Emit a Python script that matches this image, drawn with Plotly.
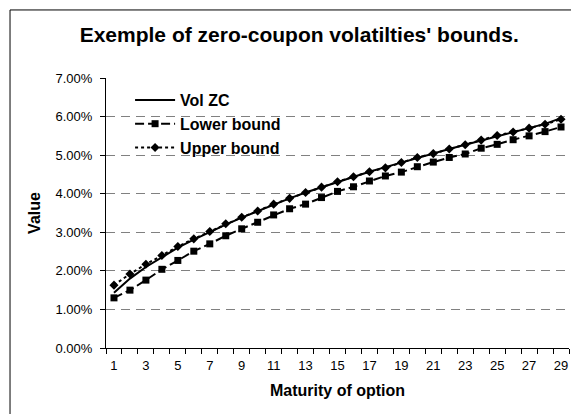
import plotly.graph_objects as go

# Daten
maturity = list(range(1, 30))
vol_zc = [1.43, 1.80, 2.10, 2.36, 2.60, 2.81, 3.01, 3.20, 3.38, 3.55,
          3.72, 3.88, 4.03, 4.17, 4.31, 4.44, 4.57, 4.69, 4.81, 4.93,
          5.04, 5.16, 5.27, 5.38, 5.49, 5.59, 5.70, 5.81, 5.96]
lower_bound = [1.30, 1.50, 1.76, 2.04, 2.27, 2.51, 2.70, 2.91, 3.09, 3.26,
               3.45, 3.61, 3.73, 3.90, 4.06, 4.18, 4.33, 4.46, 4.56, 4.70,
               4.82, 4.94, 5.03, 5.18, 5.28, 5.40, 5.50, 5.61, 5.73]
upper_bound = [1.63, 1.92, 2.17, 2.40, 2.63, 2.83, 3.02, 3.22, 3.39, 3.55,
               3.73, 3.88, 4.03, 4.17, 4.31, 4.44, 4.57, 4.67, 4.81, 4.94,
               5.04, 5.16, 5.27, 5.39, 5.51, 5.60, 5.70, 5.80, 5.93]
x_ticks = list(range(1, 30, 2))

FONT = "Liberation Sans, Arial, sans-serif"

fig = go.Figure()

fig.add_trace(
    go.Scatter(
        x=maturity,
        y=[v / 100 for v in vol_zc],
        mode="lines",
        name="Vol ZC",
        legendgroup="a",
        line=dict(color="black", width=2),
    )
)

fig.add_trace(
    go.Scatter(
        x=maturity,
        y=[v / 100 for v in lower_bound],
        mode="lines+markers",
        name="Lower bound",
        legendgroup="b",
        line=dict(color="black", width=2, dash="9px,4px"),
        marker=dict(symbol="square", size=7, color="black"),
    )
)

fig.add_trace(
    go.Scatter(
        x=maturity,
        y=[v / 100 for v in upper_bound],
        mode="lines+markers",
        name="Upper bound",
        legendgroup="c",
        line=dict(color="black", width=2, dash="3px,3px"),
        marker=dict(symbol="diamond", size=7, color="black"),
    )
)

# Rahmen um das ganze Diagramm
fig.add_shape(
    type="rect",
    xref="paper", yref="paper",
    x0=-0.2073, x1=1.02, y0=-0.252, y1=1.252,
    line=dict(color="black", width=1),
)

fig.update_layout(
    width=571,
    height=414,
    margin=dict(l=106, r=2, t=78, b=66),
    paper_bgcolor="white",
    plot_bgcolor="white",
    font=dict(family=FONT, color="black", size=13),
    title=dict(
        text="<b>Exemple of zero-coupon volatilties' bounds.</b>",
        x=0.524, xanchor="center",
        y=0.9155, yanchor="middle",
        font=dict(size=21, family=FONT, color="black"),
    ),
    showlegend=True,
    legend=dict(
        x=0.052, y=0.9815, xanchor="left", yanchor="top",
        bgcolor="rgba(0,0,0,0)",
        itemwidth=40,
        font=dict(size=16, family=FONT, color="black", weight="bold"),
        tracegroupgap=0,
    ),
    xaxis=dict(
        range=[0.5, 29.5],
        tickvals=x_ticks,
        ticks="",
        showgrid=False,
        zeroline=False,
        showline=True,
        linecolor="black",
        linewidth=1,
        ticklabelstandoff=5,
        tickfont=dict(size=13, family=FONT, color="black"),
        minor=dict(tick0=0.5, dtick=1, ticks="outside", ticklen=5,
                   tickcolor="black", showgrid=False),
        title=dict(text="<b>Maturity of option</b>",
                   font=dict(size=16, family=FONT, color="black"), standoff=13),
    ),
    yaxis=dict(
        range=[0, 0.07],
        dtick=0.01,
        tickformat=".2%",
        ticks="outside",
        ticklen=5,
        tickcolor="black",
        ticklabelstandoff=5,
        showgrid=True,
        gridcolor="#808080",
        griddash="9px,6px",
        gridwidth=1,
        zeroline=False,
        showline=True,
        linecolor="black",
        linewidth=1,
        tickfont=dict(size=13, family=FONT, color="black"),
        title=dict(text="<b>Value</b>",
                   font=dict(size=16, family=FONT, color="black"), standoff=10),
    ),
)

fig.write_html(
    "out.html",
    config={"displayModeBar": False},
    post_script="document.body.style.margin='0';",
)
